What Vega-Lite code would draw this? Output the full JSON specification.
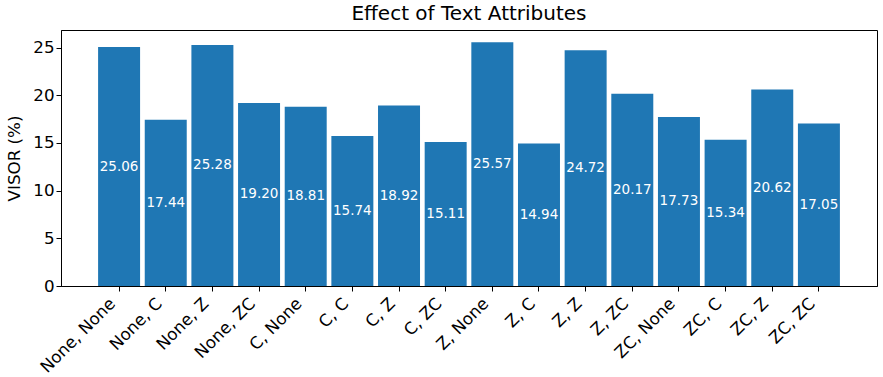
{
  "$schema": "https://vega.github.io/schema/vega-lite/v6.json",
  "width": 816,
  "height": 256,
  "autosize": {"type": "none"},
  "padding": {"left": 61, "top": 30, "right": 6, "bottom": 91},
  "background": "white",
  "title": {"text": "Effect of Text Attributes", "font": "DejaVu Sans", "fontSize": 20, "fontWeight": "normal", "color": "black", "offset": 6},
  "config": {
    "view": {"stroke": "black", "strokeWidth": 1},
    "axis": {"labelFont": "DejaVu Sans", "titleFont": "DejaVu Sans", "labelColor": "black", "titleColor": "black", "tickColor": "black", "domainColor": "black", "grid": false, "labelFontSize": 16.7, "titleFontSize": 16.7, "titleFontWeight": "normal", "tickSize": 5}
  },
  "data": {"values": [
    {"cat": "None, None", "v": 25.06},
    {"cat": "None, C", "v": 17.44},
    {"cat": "None, Z", "v": 25.28},
    {"cat": "None, ZC", "v": 19.20},
    {"cat": "C, None", "v": 18.81},
    {"cat": "C, C", "v": 15.74},
    {"cat": "C, Z", "v": 18.92},
    {"cat": "C, ZC", "v": 15.11},
    {"cat": "Z, None", "v": 25.57},
    {"cat": "Z, C", "v": 14.94},
    {"cat": "Z, Z", "v": 24.72},
    {"cat": "Z, ZC", "v": 20.17},
    {"cat": "ZC, None", "v": 17.73},
    {"cat": "ZC, C", "v": 15.34},
    {"cat": "ZC, Z", "v": 20.62},
    {"cat": "ZC, ZC", "v": 17.05}
  ]},
  "encoding": {
    "x": {"field": "cat", "type": "nominal", "sort": null,
      "scale": {"paddingInner": 0.1, "paddingOuter": 0.795},
      "axis": {"title": null, "labelAngle": -45, "labelAlign": "right", "labelBaseline": "bottom", "labelPadding": 16}}
  },
  "layer": [
    {"mark": {"type": "bar", "color": "#1f77b4"},
     "encoding": {"y": {"field": "v", "type": "quantitative", "scale": {"domain": [0, 26.85], "nice": false},
       "axis": {"title": "VISOR (%)", "values": [0, 5, 10, 15, 20, 25], "titlePadding": 9}}}},
    {"transform": [{"calculate": "datum.v/2", "as": "half"}],
     "mark": {"type": "text", "color": "white", "font": "DejaVu Sans", "fontSize": 13.5, "align": "center", "baseline": "middle"},
     "encoding": {"y": {"field": "half", "type": "quantitative"},
       "text": {"field": "v", "type": "quantitative", "format": ".2f"}}}
  ]
}
